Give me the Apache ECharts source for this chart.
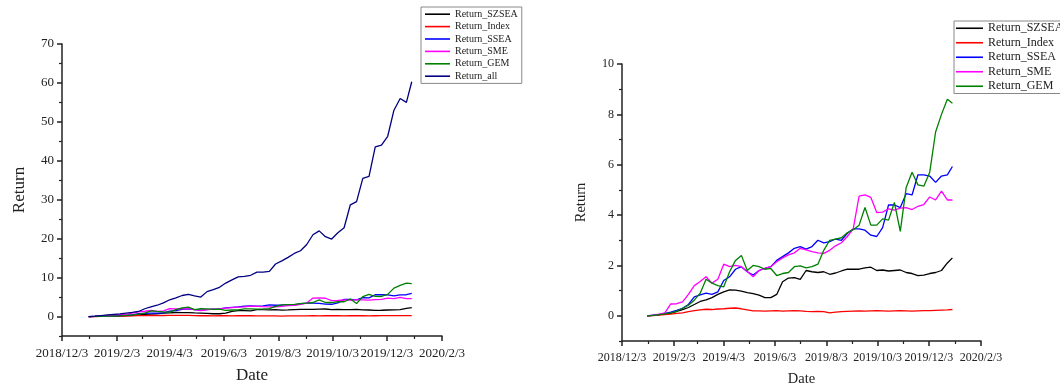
<!DOCTYPE html>
<html>
<head>
<meta charset="utf-8">
<script src="https://cdn.jsdelivr.net/npm/echarts@6/dist/echarts.min.js"></script>
<style>
html,body{margin:0;padding:0;background:#fff;}
#c{width:1060px;height:385px;}
</style>
</head>
<body>
<div id="c"></div>
<script>
// ---------- data ----------
const dates = ["2019-01-02","2019-01-09","2019-01-16","2019-01-23","2019-01-30",
"2019-02-06","2019-02-13","2019-02-20","2019-02-27",
"2019-03-06","2019-03-13","2019-03-20","2019-03-27",
"2019-04-03","2019-04-10","2019-04-17","2019-04-24",
"2019-05-01","2019-05-08","2019-05-15","2019-05-22","2019-05-29",
"2019-06-05","2019-06-12","2019-06-19","2019-06-26",
"2019-07-03","2019-07-10","2019-07-17","2019-07-24","2019-07-31",
"2019-08-07","2019-08-14","2019-08-21","2019-08-28",
"2019-09-04","2019-09-11","2019-09-18","2019-09-25",
"2019-10-02","2019-10-09","2019-10-16","2019-10-23","2019-10-30",
"2019-11-06","2019-11-13","2019-11-20","2019-11-27",
"2019-12-04","2019-12-11","2019-12-18","2019-12-25","2019-12-31"];

const returnSZSEA = [0,0.02,0.05,0.08,0.10,0.18,0.25,0.33,0.45,0.57,0.63,0.72,0.85,0.95,1.03,1.02,0.98,0.92,0.88,0.82,0.72,0.72,0.85,1.35,1.50,1.52,1.45,1.80,1.75,1.72,1.75,1.65,1.70,1.78,1.85,1.85,1.85,1.90,1.93,1.80,1.82,1.78,1.80,1.82,1.72,1.68,1.60,1.62,1.68,1.72,1.80,2.10,2.30];
const returnIndex = [0,0.01,0.03,0.05,0.07,0.10,0.12,0.17,0.21,0.24,0.26,0.25,0.27,0.28,0.30,0.31,0.28,0.24,0.20,0.20,0.19,0.20,0.21,0.19,0.20,0.21,0.20,0.18,0.17,0.18,0.17,0.12,0.15,0.17,0.18,0.19,0.20,0.19,0.20,0.21,0.20,0.19,0.20,0.21,0.20,0.19,0.20,0.21,0.21,0.22,0.23,0.24,0.25];
const returnSSEA = [0,0.03,0.05,0.10,0.15,0.22,0.30,0.45,0.75,0.83,0.90,0.85,0.95,1.40,1.55,1.85,1.95,1.75,1.62,1.80,1.88,1.95,2.20,2.35,2.50,2.68,2.75,2.65,2.75,3.00,2.90,2.95,3.05,3.00,3.28,3.45,3.45,3.40,3.20,3.15,3.50,4.40,4.40,4.30,4.85,4.80,5.60,5.60,5.55,5.30,5.55,5.60,5.93];
const returnSME = [0,0.03,0.07,0.12,0.47,0.48,0.55,0.85,1.20,1.36,1.55,1.30,1.45,2.05,1.95,2.00,1.95,1.76,1.55,1.80,1.88,1.95,2.15,2.30,2.42,2.50,2.68,2.62,2.55,2.50,2.48,2.60,2.78,2.90,3.15,3.45,4.75,4.80,4.70,4.10,4.12,4.25,4.20,4.28,4.30,4.22,4.35,4.42,4.72,4.60,4.95,4.60,4.60];
const returnGEM = [0,0.02,0.05,0.08,0.12,0.18,0.30,0.42,0.62,0.90,1.45,1.30,1.20,1.15,1.75,2.20,2.40,1.80,2.00,1.95,1.85,1.88,1.60,1.68,1.72,1.95,1.98,1.90,1.95,2.05,2.60,3.00,3.05,3.10,3.30,3.42,3.60,4.30,3.60,3.60,3.85,3.80,4.50,3.35,5.10,5.70,5.20,5.15,5.70,7.30,8.00,8.60,8.44];
const returnAll = [0,0.1,0.25,0.4,0.55,0.7,0.9,1.05,1.3,2.0,2.5,2.9,3.5,4.3,4.8,5.4,5.7,5.3,5.0,6.4,6.9,7.5,8.6,9.4,10.2,10.3,10.6,11.4,11.4,11.6,13.5,14.3,15.2,16.2,16.9,18.5,21.0,22.0,20.5,19.9,21.5,22.8,28.7,29.5,35.5,36.0,43.6,44.0,46.3,53.0,56.0,55.0,60.3];

const majorTickDates = ["2018-12-03","2019-02-03","2019-04-03","2019-06-03","2019-08-03","2019-10-03","2019-12-03","2020-02-03"];
const minorTickDates = ["2019-01-03","2019-03-03","2019-05-03","2019-07-03","2019-09-03","2019-11-03","2020-01-03"];
const leftYTicks = [0,10,20,30,40,50,60,70];
const leftYMinor = [-5,5,15,25,35,45,55,65];
const rightYTicks = [0,2,4,6,8,10];
const rightYMinor = [-1,1,3,5,7,9];

const seriesNames = ["Return_SZSEA","Return_Index","Return_SSEA","Return_SME","Return_GEM","Return_all"];
const seriesValues = [returnSZSEA,returnIndex,returnSSEA,returnSME,returnGEM,returnAll];
const seriesColors = ["#000000","#ff0000","#0000ff","#ff00ff","#008000","#000080"];

// ---------- chart ----------
const ts = s => new Date(s + "T00:00:00Z").getTime();
const xMin = ts(majorTickDates[0]), xMax = ts(majorTickDates[majorTickDates.length-1]);
const fmtDate = v => { const d = new Date(v); return d.getUTCFullYear() + "/" + (d.getUTCMonth()+1) + "/" + d.getUTCDate(); };
const FONT = "Liberation Serif";
const AX = "#222";

function xAxes(gridIndex, fs, margin, nameGap, nameSize) {
  return [{
    type: "value", gridIndex, min: xMin, max: xMax, position: "bottom",
    name: "Date", nameLocation: "middle", nameGap,
    nameTextStyle: {fontFamily: FONT, fontSize: nameSize, color: "#222"},
    axisLine: {onZero: false, lineStyle: {color: AX, width: 1.5}},
    axisTick: {show: true, length: 5, lineStyle: {color: AX, width: 1.5}, customValues: majorTickDates.map(ts)},
    axisLabel: {show: true, margin, fontFamily: FONT, fontSize: fs, color: "#222", customValues: majorTickDates.map(ts), formatter: fmtDate, hideOverlap: false},
    splitLine: {show: false}
  }, {
    type: "value", gridIndex, min: xMin, max: xMax, position: "bottom",
    axisLine: {show: false, onZero: false},
    axisTick: {show: true, length: 3, lineStyle: {color: AX, width: 1.2}, customValues: minorTickDates.map(ts)},
    axisLabel: {show: false},
    splitLine: {show: false}
  }];
}
function yAxes(gridIndex, min, max, ticks, minor, fs, nameGap, nameSize) {
  return [{
    type: "value", gridIndex, min, max, position: "left",
    name: "Return", nameLocation: "middle", nameGap, nameRotate: 90,
    nameTextStyle: {fontFamily: FONT, fontSize: nameSize, color: "#222"},
    axisLine: {show: true, lineStyle: {color: AX, width: 1.5}},
    axisTick: {show: true, length: 5, lineStyle: {color: AX, width: 1.5}, customValues: ticks},
    axisLabel: {show: true, margin: 8, fontFamily: FONT, fontSize: fs, color: "#222", customValues: ticks},
    splitLine: {show: false}
  }, {
    type: "value", gridIndex, min, max, position: "left",
    axisLine: {show: false},
    axisTick: {show: true, length: 3, lineStyle: {color: AX, width: 1.2}, customValues: minor},
    axisLabel: {show: false},
    splitLine: {show: false}
  }];
}

const series = [];
seriesNames.forEach((n, i) => {
  series.push({
    name: n, type: "line", xAxisIndex: 0, yAxisIndex: 0, showSymbol: false, symbol: "none",
    lineStyle: {color: seriesColors[i], width: 1.3}, itemStyle: {color: seriesColors[i]},
    data: dates.map((d, j) => [ts(d), seriesValues[i][j]])
  });
});
seriesNames.slice(0, 5).forEach((n, i) => {
  series.push({
    name: n, type: "line", xAxisIndex: 2, yAxisIndex: 2, showSymbol: false, symbol: "none",
    lineStyle: {color: seriesColors[i], width: 1.3}, itemStyle: {color: seriesColors[i]},
    data: dates.map((d, j) => [ts(d), seriesValues[i][j]])
  });
});

const chart = echarts.init(document.getElementById("c"), null, {renderer: "canvas"});
chart.setOption({
  animation: false,
  backgroundColor: "#fff",
  grid: [
    {left: 62, top: 44, width: 380, height: 292, containLabel: false, outerBoundsMode: "none"},
    {left: 622, top: 64, width: 359, height: 277, containLabel: false, outerBoundsMode: "none"}
  ],
  xAxis: [...xAxes(0, 13, 11, 31, 17), ...xAxes(1, 12, 11, 31, 14.5)],
  yAxis: [...yAxes(0, -5, 70, leftYTicks, leftYMinor, 13, 34, 17), ...yAxes(1, -1, 10, rightYTicks, rightYMinor, 12, 33, 14.5)],
  legend: [{
    orient: "vertical", left: 421, top: 7, data: seriesNames,
    icon: "rect", itemWidth: 25, itemHeight: 1.6, itemGap: 0,
    borderColor: "#888", borderWidth: 1, padding: [1, 4, 1, 4], selectedMode: false,
    textStyle: {fontFamily: FONT, fontSize: 10, lineHeight: 12.4, color: "#222"}
  }, {
    orient: "vertical", left: 954, top: 21, data: seriesNames.slice(0, 5),
    icon: "rect", itemWidth: 27, itemHeight: 1.6, itemGap: 0,
    borderColor: "#888", borderWidth: 1, padding: [0, 12, 0, 2], selectedMode: false,
    textStyle: {fontFamily: FONT, fontSize: 12, lineHeight: 14.5, color: "#222"}
  }],
  series
});
</script>
</body>
</html>
